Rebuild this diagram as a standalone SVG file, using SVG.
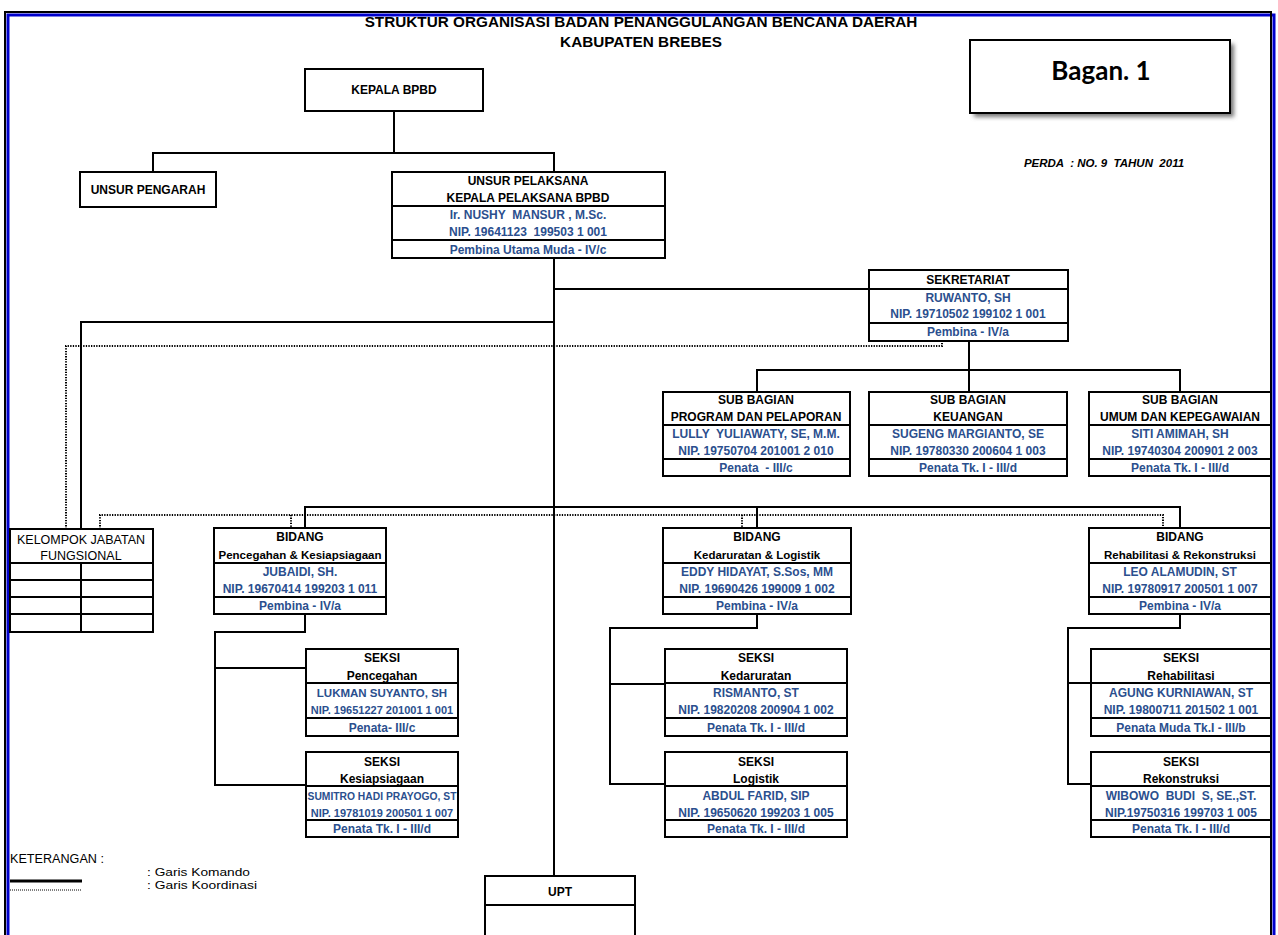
<svg xmlns="http://www.w3.org/2000/svg" width="1278" height="935" viewBox="0 0 1278 935">
<defs>
<style>
.t{font-family:"Liberation Sans",Arial,sans-serif;font-weight:bold;font-size:12px;text-anchor:middle;white-space:pre;fill:#000}
.bl{fill:#2B4F8E}
.r{font-weight:normal}
.box{fill:#fff;stroke:#000;stroke-width:2}
.ln{stroke:#000;stroke-width:2;fill:none}
.c{fill:none;stroke:#000;stroke-width:2}
.d{fill:none;stroke:#000;stroke-width:2;stroke-dasharray:1.3 1.3}
</style>
<filter id="sh" x="-10%" y="-10%" width="130%" height="140%"><feGaussianBlur stdDeviation="2"/></filter>
</defs>
<rect width="1278" height="935" fill="#fff"/>
<g id="frame">
<rect x="8" y="15" width="1266" height="935" fill="none" stroke="#0000CC" stroke-width="3"/>
<rect x="5" y="12" width="1266" height="935" fill="none" stroke="#000" stroke-width="2"/>
</g>
<g id="title">
<text class="t" x="641" y="27" style="font-size:15.3px">STRUKTUR ORGANISASI BADAN PENANGGULANGAN BENCANA DAERAH</text>
<text class="t" x="641" y="47" style="font-size:15.3px">KABUPATEN BREBES</text>
</g>
<g id="bagan">
<rect x="974" y="44" width="260" height="73" fill="#777" filter="url(#sh)"/>
<rect x="970" y="40" width="260" height="73" class="box"/>
<text class="t" x="1101" y="80" style="font-family:Lato,'Liberation Sans',sans-serif;font-size:26px">Bagan. 1</text>
<text class="t" x="1104" y="167" style="font-size:11.5px;font-style:italic">PERDA  : NO. 9  TAHUN  2011</text>
</g>
<g id="connectors">
<path class="c" d="M394,111 V153 M153,172 V153 H554 V172 M554,258 V876 M554,289 H869 M81,529 V322 H554 M969,341 V392 M757,392 V370 H1180 V392"/>
<path class="c" d="M305,528 V507 H1180 V528 M757,507 V528"/>
<path class="c" d="M305,614 V632 H215 V785 H306 M215,668 H306"/>
<path class="c" d="M757,614 V628 H610 V784 H665 M610,684 H665"/>
<path class="c" d="M1180,614 V628 H1068 V784 H1091 M1068,683 H1091"/>
<path class="d" d="M66,529 V346 H942 V341"/>
<path class="d" d="M100,529 V515 H1163 V528 M291,515 V528 M742,515 V528"/>
</g>
<g id="kepala">
<rect x="305" y="69" width="178" height="42" class="box"/>
<text class="t" x="394" y="94">KEPALA BPBD</text>
</g>
<g id="pengarah">
<rect x="80" y="172" width="136" height="35" class="box"/>
<text class="t" x="148" y="194">UNSUR PENGARAH</text>
</g>
<g id="pelaksana">
<rect x="392" y="172" width="273" height="86" class="box"/>
<path class="ln" d="M392,206 H665 M392,240 H665"/>
<text class="t" x="528" y="185">UNSUR PELAKSANA</text>
<text class="t" x="528" y="202">KEPALA PELAKSANA BPBD</text>
<text class="t bl" x="528" y="219">Ir. NUSHY  MANSUR , M.Sc.</text>
<text class="t bl" x="528" y="236">NIP. 19641123  199503 1 001</text>
<text class="t bl" x="528" y="254">Pembina Utama Muda - IV/c</text>
</g>
<g id="sekretariat">
<rect x="869" y="270" width="199" height="71" class="box"/>
<path class="ln" d="M869,289 H1068 M869,323 H1068"/>
<text class="t" x="968" y="284">SEKRETARIAT</text>
<text class="t bl" x="968" y="302">RUWANTO, SH</text>
<text class="t bl" x="968" y="318">NIP. 19710502 199102 1 001</text>
<text class="t bl" x="968" y="336">Pembina - IV/a</text>
</g>
<g id="subbag-program">
<rect x="663" y="392" width="187" height="84" class="box"/>
<path class="ln" d="M663,425 H850 M663,459 H850"/>
<text class="t" x="756" y="404">SUB BAGIAN</text>
<text class="t" x="756" y="421">PROGRAM DAN PELAPORAN</text>
<text class="t bl" x="756" y="438">LULLY  YULIAWATY, SE, M.M.</text>
<text class="t bl" x="756" y="455">NIP. 19750704 201001 2 010</text>
<text class="t bl" x="756" y="472">Penata  - III/c</text>
</g>
<g id="subbag-keuangan">
<rect x="869" y="392" width="198" height="84" class="box"/>
<path class="ln" d="M869,425 H1067 M869,459 H1067"/>
<text class="t" x="968" y="404">SUB BAGIAN</text>
<text class="t" x="968" y="421">KEUANGAN</text>
<text class="t bl" x="968" y="438">SUGENG MARGIANTO, SE</text>
<text class="t bl" x="968" y="455">NIP. 19780330 200604 1 003</text>
<text class="t bl" x="968" y="472">Penata Tk. I - III/d</text>
</g>
<g id="subbag-umum">
<rect x="1089" y="392" width="182" height="84" class="box"/>
<path class="ln" d="M1089,425 H1271 M1089,459 H1271"/>
<text class="t" x="1180" y="404">SUB BAGIAN</text>
<text class="t" x="1180" y="421">UMUM DAN KEPEGAWAIAN</text>
<text class="t bl" x="1180" y="438">SITI AMIMAH, SH</text>
<text class="t bl" x="1180" y="455">NIP. 19740304 200901 2 003</text>
<text class="t bl" x="1180" y="472">Penata Tk. I - III/d</text>
</g>
<g id="kelompok">
<rect x="10" y="529" width="143" height="103" class="box"/>
<path class="ln" d="M10,563 H153 M10,580 H153 M10,597 H153 M10,614 H153 M81,563 V632"/>
<text class="t r" x="81" y="544" style="font-size:12.5px">KELOMPOK JABATAN</text>
<text class="t r" x="81" y="560" style="font-size:12.5px">FUNGSIONAL</text>
</g>
<g id="bidang-pencegahan">
<rect x="214" y="528" width="172" height="86" class="box"/>
<path class="ln" d="M214,563 H386 M214,597 H386"/>
<text class="t" x="300" y="541">BIDANG</text>
<text class="t" x="300" y="559" style="font-size:11.5px">Pencegahan &amp; Kesiapsiagaan</text>
<text class="t bl" x="300" y="576">JUBAIDI, SH.</text>
<text class="t bl" x="300" y="593">NIP. 19670414 199203 1 011</text>
<text class="t bl" x="300" y="610">Pembina - IV/a</text>
</g>
<g id="bidang-kedaruratan">
<rect x="663" y="528" width="188" height="86" class="box"/>
<path class="ln" d="M663,563 H851 M663,597 H851"/>
<text class="t" x="757" y="541">BIDANG</text>
<text class="t" x="757" y="559" style="font-size:11.5px">Kedaruratan &amp; Logistik</text>
<text class="t bl" x="757" y="576">EDDY HIDAYAT, S.Sos, MM</text>
<text class="t bl" x="757" y="593">NIP. 19690426 199009 1 002</text>
<text class="t bl" x="757" y="610">Pembina - IV/a</text>
</g>
<g id="bidang-rehabilitasi">
<rect x="1089" y="528" width="182" height="86" class="box"/>
<path class="ln" d="M1089,563 H1271 M1089,597 H1271"/>
<text class="t" x="1180" y="541">BIDANG</text>
<text class="t" x="1180" y="559" style="font-size:11.5px">Rehabilitasi &amp; Rekonstruksi</text>
<text class="t bl" x="1180" y="576">LEO ALAMUDIN, ST</text>
<text class="t bl" x="1180" y="593">NIP. 19780917 200501 1 007</text>
<text class="t bl" x="1180" y="610">Pembina - IV/a</text>
</g>
<g id="seksi-pencegahan">
<rect x="306" y="649" width="152" height="87" class="box"/>
<path class="ln" d="M306,683 H458 M306,718 H458"/>
<text class="t" x="382" y="662">SEKSI</text>
<text class="t" x="382" y="680">Pencegahan</text>
<text class="t bl" x="382" y="697" style="font-size:11.5px">LUKMAN SUYANTO, SH</text>
<text class="t bl" x="382" y="714" style="font-size:11px">NIP. 19651227 201001 1 001</text>
<text class="t bl" x="382" y="732">Penata- III/c</text>
</g>
<g id="seksi-kesiapsiagaan">
<rect x="306" y="752" width="152" height="85" class="box"/>
<path class="ln" d="M306,786 H458 M306,820 H458"/>
<text class="t" x="382" y="766">SEKSI</text>
<text class="t" x="382" y="783">Kesiapsiagaan</text>
<text class="t bl" x="382" y="800" style="font-size:10.3px">SUMITRO HADI PRAYOGO, ST</text>
<text class="t bl" x="382" y="817" style="font-size:11px">NIP. 19781019 200501 1 007</text>
<text class="t bl" x="382" y="833">Penata Tk. I - III/d</text>
</g>
<g id="seksi-kedaruratan">
<rect x="665" y="649" width="182" height="87" class="box"/>
<path class="ln" d="M665,683 H847 M665,718 H847"/>
<text class="t" x="756" y="662">SEKSI</text>
<text class="t" x="756" y="680">Kedaruratan</text>
<text class="t bl" x="756" y="697">RISMANTO, ST</text>
<text class="t bl" x="756" y="714">NIP. 19820208 200904 1 002</text>
<text class="t bl" x="756" y="732">Penata Tk. I - III/d</text>
</g>
<g id="seksi-logistik">
<rect x="665" y="752" width="182" height="85" class="box"/>
<path class="ln" d="M665,786 H847 M665,820 H847"/>
<text class="t" x="756" y="766">SEKSI</text>
<text class="t" x="756" y="783">Logistik</text>
<text class="t bl" x="756" y="800">ABDUL FARID, SIP</text>
<text class="t bl" x="756" y="817">NIP. 19650620 199203 1 005</text>
<text class="t bl" x="756" y="833">Penata Tk. I - III/d</text>
</g>
<g id="seksi-rehabilitasi">
<rect x="1091" y="649" width="180" height="87" class="box"/>
<path class="ln" d="M1091,683 H1271 M1091,718 H1271"/>
<text class="t" x="1181" y="662">SEKSI</text>
<text class="t" x="1181" y="680">Rehabilitasi</text>
<text class="t bl" x="1181" y="697">AGUNG KURNIAWAN, ST</text>
<text class="t bl" x="1181" y="714">NIP. 19800711 201502 1 001</text>
<text class="t bl" x="1181" y="732">Penata Muda Tk.I - III/b</text>
</g>
<g id="seksi-rekonstruksi">
<rect x="1091" y="752" width="180" height="85" class="box"/>
<path class="ln" d="M1091,786 H1271 M1091,820 H1271"/>
<text class="t" x="1181" y="766">SEKSI</text>
<text class="t" x="1181" y="783">Rekonstruksi</text>
<text class="t bl" x="1181" y="800">WIBOWO  BUDI  S, SE.,ST.</text>
<text class="t bl" x="1181" y="817">NIP.19750316 199703 1 005</text>
<text class="t bl" x="1181" y="833">Penata Tk. I - III/d</text>
</g>
<g id="upt">
<rect x="485" y="876" width="150" height="70" class="box"/>
<path class="ln" d="M485,905 H635"/>
<text class="t" x="560" y="896">UPT</text>
</g>
<g id="keterangan">
<text class="t r" x="10" y="863" style="text-anchor:start;font-size:12px" textLength="94" lengthAdjust="spacingAndGlyphs">KETERANGAN :</text>
<text class="t r" x="147" y="876" style="text-anchor:start;font-size:11.5px" textLength="103" lengthAdjust="spacingAndGlyphs">: Garis Komando</text>
<text class="t r" x="147" y="889" style="text-anchor:start;font-size:11.5px" textLength="110" lengthAdjust="spacingAndGlyphs">: Garis Koordinasi</text>
<path d="M10,881 H82" stroke="#000" stroke-width="3"/>
<path d="M10,890 H82" stroke="#000" stroke-width="1" stroke-dasharray="1 1"/>
</g>
</svg>
